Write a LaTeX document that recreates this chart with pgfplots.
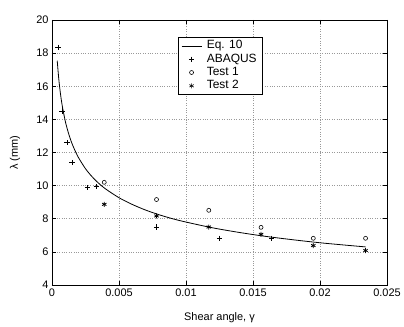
\documentclass[border=0pt]{standalone}
\usepackage{fontspec}
\setmainfont{Liberation Sans}
\usepackage{pgfplots}
\pgfplotsset{compat=1.18}
\begin{document}
\begin{tikzpicture}
\begin{axis}[
  scale only axis, width=335bp, height=265bp,
  xmin=0, xmax=0.025, ymin=4, ymax=20,
  scaled x ticks=false,
  xtick={0,0.005,0.01,0.015,0.02,0.025},
  xticklabels={0,0.005,0.01,0.015,0.02,0.025},
  ytick={4,6,...,20},
  /pgf/number format/assume math mode=true,
  tick label style={font=\fontsize{11}{13}\selectfont},
  label style={font=\fontsize{11}{13}\selectfont},
  tick align=inside, tick pos=both,
  major tick length=4bp,
  axis line style={line width=0.9pt},
  every tick/.style={black, line width=0.6pt},
  grid=major,
  grid style={dotted, gray!80, line width=0.6pt},
  xlabel={Shear angle, γ},
  ylabel={λ (mm)},
  xlabel style={at={(axis description cs:0.5,-0.125)}, anchor=center},
  ylabel style={at={(axis description cs:-0.11,0.5)}, anchor=center},
  legend style={at={(0.376,0.936)}, anchor=north west, draw=black, line width=0.6pt,
    font=\fontsize{12}{13}\selectfont, inner xsep=3bp, inner ysep=2bp, row sep=0bp,
    nodes={text height=8.5bp, text depth=2.5bp, inner xsep=3bp, inner ysep=1.15bp},
    /tikz/every odd column/.append style={column sep=2bp}},
  legend cell align=left,
  legend image code/.code={\draw[mark repeat=2,mark phase=2,#1] plot coordinates {(0bp,0bp) (10bp,0bp) (20bp,0bp)};},
  legend image post style={line width=0.6pt},
]
\addplot[black, line width=0.8pt, no markers, smooth] coordinates {
(0.00039,17.54)(0.0005,16.49)(0.0006,15.75)(0.0007,15.15)(0.0008,14.66)
(0.001,13.86)(0.0012,13.25)(0.0014,12.74)(0.0016,12.33)(0.0018,11.97)
(0.002,11.66)(0.0025,11.02)(0.003,10.53)(0.0035,10.13)(0.004,9.80)
(0.005,9.27)(0.006,8.86)(0.007,8.52)(0.008,8.24)(0.009,8.00)
(0.010,7.80)(0.012,7.45)(0.014,7.17)(0.016,6.93)(0.018,6.73)
(0.020,6.55)(0.022,6.40)(0.0234,6.30)
};
\addlegendentry{Eq. 10}
\addplot[only marks, mark=+, mark size=2.7bp, black, line width=0.6pt] coordinates {
(0.00045,18.35)(0.00075,14.5)(0.00112,12.6)(0.0015,11.39)(0.00266,9.88)
(0.0033,9.94)(0.0078,7.5)(0.0125,6.82)(0.0164,6.82)
};
\addlegendentry{ABAQUS}
\addplot[only marks, mark=o, mark size=2bp, black, line width=0.6pt] coordinates {
(0.0039,10.2)(0.0078,9.16)(0.0117,8.51)(0.0156,7.48)(0.0195,6.82)(0.0234,6.82)
};
\addlegendentry{Test 1}
\addplot[only marks, mark=asterisk, mark size=2.5bp, black, line width=0.8pt] coordinates {
(0.0039,8.87)(0.0078,8.17)(0.0117,7.5)(0.0156,7.06)(0.0195,6.38)(0.0234,6.08)
};
\addlegendentry{Test 2}
\end{axis}
\pgfresetboundingbox
\path (current axis.south west) ++(-52bp,-42bp) coordinate (bbA);
\path (current axis.north east) ++(17bp,20bp) coordinate (bbB);
\path[use as bounding box] (bbA) rectangle (bbB);
\end{tikzpicture}
\end{document}
